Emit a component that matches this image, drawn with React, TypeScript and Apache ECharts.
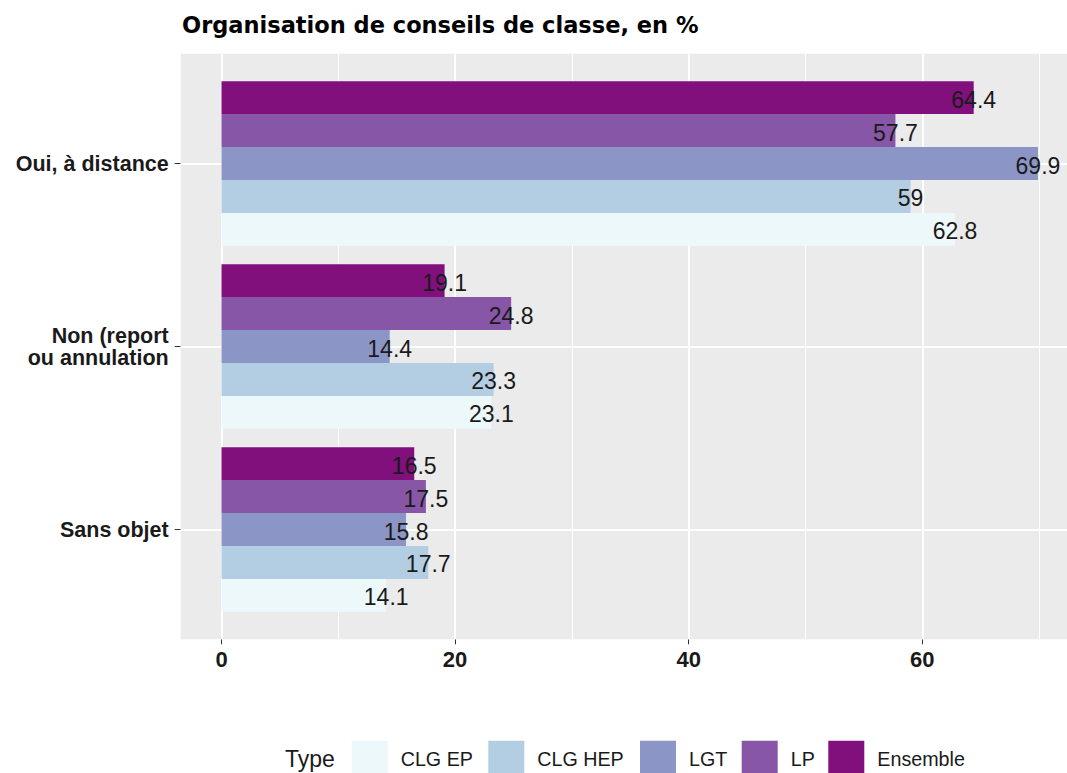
import React, { useEffect, useRef } from "react";
import * as echarts from "echarts";

// Categories, top to bottom as in the chart
const categories = ["Oui, à distance", "Non (report\nou annulation", "Sans objet"];
const seriesNames = ["CLG EP", "CLG HEP", "LGT", "LP", "Ensemble"];
const clgEp = [62.8, 23.1, 14.1];
const clgHep = [59, 23.3, 17.7];
const lgt = [69.9, 14.4, 15.8];
const lp = [57.7, 24.8, 17.5];
const ensemble = [64.4, 19.1, 16.5];
const xTickLabels = [0, 20, 40, 60];
const xMinorLines = [10, 30, 50, 70];

const colors = ["#EDF8FB", "#B3CDE3", "#8C96C6", "#8856A7", "#810F7C"];
const legendLefts = [351.7, 488.3, 640, 741.7, 828.3];

const FONT = "'Liberation Sans', Arial, sans-serif";

export default function App() {
  const ref = useRef<HTMLDivElement>(null);
  useEffect(() => {
    const chart = echarts.init(ref.current!, null, { renderer: "svg" });
    const values = [clgEp, clgHep, lgt, lp, ensemble];
    const catsBottomUp = [...categories].reverse();
    const dataMax = Math.max(...values.flat());
    const pad = dataMax * 0.05;
    const xMin = -pad;
    const xMax = dataMax + pad;
    const scale = 11.68;
    const gridLeft = 221.5 - pad * scale;
    const gridWidth = (xMax - xMin) * scale;

    // In a horizontal bar group, the first series is drawn on top: Ensemble first
    const order = [4, 3, 2, 1, 0];
    const barSeries = order.map((i) => ({
      name: seriesNames[i],
      type: "bar",
      xAxisIndex: 1,
      yAxisIndex: 1,
      data: [...values[i]].reverse(),
      barGap: "0%",
      barCategoryGap: "10%",
      z: 3,
      itemStyle: { color: colors[i] },
      label: {
        show: true,
        position: ["100%", "50%"],
        align: "center",
        verticalAlign: "middle",
        fontFamily: FONT,
        fontSize: 23,
        color: "#1a1a1a",
        offset: [0, 2],
      },
    }));

    const option: any = {
      animation: false,
      backgroundColor: "#ffffff",
      title: {
        text: "Organisation de conseils de classe, en %",
        left: 182,
        top: 13,
        padding: 0,
        textStyle: {
          fontFamily: "'DejaVu Sans', sans-serif",
          fontWeight: "bold",
          fontSize: 22.5,
          color: "#000000",
        },
      },
      legend: seriesNames.map((name, i) => ({
        data: [name],
        left: legendLefts[i],
        top: 740.7,
        padding: 0,
        itemWidth: 36,
        itemHeight: 36,
        icon: "rect",
        selectedMode: false,
        itemStyle: { borderWidth: 0 },
        textStyle: {
          fontFamily: FONT,
          fontSize: 19.7,
          color: "#1a1a1a",
          padding: [4, 0, 0, 8],
        },
      })),
      graphic: [
        {
          type: "text",
          left: 285,
          top: 747,
          style: {
            text: "Type",
            font: `23px ${FONT}`,
            fill: "#1a1a1a",
          },
        },
      ],
      grid: [
        {
          left: gridLeft,
          top: 53.7,
          width: gridWidth,
          height: 585.6,
          show: true,
          backgroundColor: "#EBEBEB",
          borderWidth: 0,
        },
        {
          left: gridLeft,
          top: 72,
          width: gridWidth,
          height: 549,
          show: false,
        },
      ],
      xAxis: [
        {
          gridIndex: 0,
          type: "value",
          min: xMin,
          max: xMax,
          axisLine: { show: false },
          splitLine: { show: false },
          axisTick: {
            show: true,
            customValues: xTickLabels,
            length: 5,
            lineStyle: { color: "#333333", width: 1 },
          },
          axisLabel: {
            customValues: xTickLabels,
            fontFamily: FONT,
            fontWeight: "bold",
            fontSize: 22,
            color: "#1a1a1a",
            margin: 9,
          },
        },
        {
          gridIndex: 1,
          type: "value",
          min: xMin,
          max: xMax,
          show: false,
          splitLine: { show: false },
        },
      ],
      yAxis: [
        {
          gridIndex: 0,
          type: "value",
          min: 0,
          max: 1,
          show: false,
          splitLine: { show: false },
        },
        {
          gridIndex: 1,
          type: "category",
          data: catsBottomUp,
          position: "left",
          axisLine: { show: false, onZero: false },
          splitLine: { show: false },
          axisTick: {
            show: true,
            alignWithLabel: true,
            length: 6,
            lineStyle: { color: "#333333", width: 1 },
          },
          axisLabel: {
            fontFamily: FONT,
            fontWeight: "bold",
            fontSize: 21.5,
            lineHeight: 22,
            color: "#1a1a1a",
            margin: 12,
          },
        },
      ],
      series: [
        {
          type: "scatter",
          xAxisIndex: 0,
          yAxisIndex: 0,
          data: [[0, 0.5]],
          symbolSize: 0,
          silent: true,
          z: 1,
          markLine: {
            silent: true,
            symbol: "none",
            z: 1,
            label: { show: false },
            data: [
              ...xTickLabels.map((v) => ({
                xAxis: v,
                lineStyle: { color: "#ffffff", width: 2, type: "solid" },
              })),
              ...xMinorLines.map((v) => ({
                xAxis: v,
                lineStyle: { color: "#ffffff", width: 1, type: "solid" },
              })),
            ],
          },
        },
        {
          type: "scatter",
          xAxisIndex: 1,
          yAxisIndex: 1,
          data: [[0, catsBottomUp[0]]],
          symbolSize: 0,
          silent: true,
          z: 1,
          markLine: {
            silent: true,
            symbol: "none",
            z: 1,
            label: { show: false },
            lineStyle: { color: "#ffffff", width: 2, type: "solid" },
            data: catsBottomUp.map((c) => ({ yAxis: c })),
          },
        },
        ...barSeries,
      ],
    };
    chart.setOption(option);
    return () => chart.dispose();
  }, []);
  return (
    <div
      ref={ref}
      style={{ position: "fixed", left: 0, top: 0, width: 1090, height: 773 }}
    />
  );
}
